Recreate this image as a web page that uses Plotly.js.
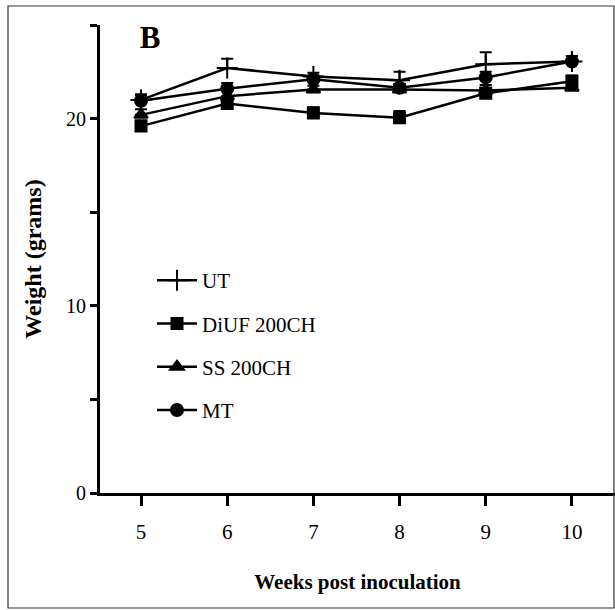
<!DOCTYPE html>
<html>
<head>
<meta charset="utf-8">
<script src="https://cdn.plot.ly/plotly-3.0.1.min.js"></script>
<style>html,body{margin:0;padding:0;background:#fff;}#chart{width:615px;height:610px;}</style>
</head>
<body>
<div id="chart"></div>
<script>
const weeks = [5, 6, 7, 8, 9, 10];
const seriesNames = ['UT', 'DiUF 200CH', 'SS 200CH', 'MT'];
const utWeight   = [21.0, 22.7, 22.25, 22.05, 22.9, 23.05];
const utErr      = [0.3, 0.5, 0.2, 0.45, 0.65, 0.3];
const diufWeight = [19.6, 20.8, 20.3, 20.05, 21.35, 22.0];
const diufErr    = [0.3, 0.35, 0.3, 0.35, 0.3, 0.3];
const ssWeight   = [20.2, 21.2, 21.55, 21.55, 21.5, 21.65];
const ssErr      = [0.3, 0.3, 0.2, 0.3, 0.3, 0.3];
const mtWeight   = [20.95, 21.6, 22.1, 21.65, 22.2, 23.05];
const mtErr      = [0.3, 0.3, 0.2, 0.2, 0.3, 0.3];
const xTickVals = [5, 6, 7, 8, 9, 10];
const yTickVals = [0, 5, 10, 15, 20, 25];
const yTickText = ['0', '', '10', '', '20', ''];

const serif = 'Liberation Serif, DejaVu Serif, serif';
const zeros = weeks.map(() => 0);

function mk(name, y, err, symbol, size, group) {
  return {
    x: weeks, y: y, name: name, type: 'scatter', mode: 'lines+markers',
    legendgroup: group,
    line: {color: '#000', width: 2.5},
    marker: {symbol: symbol, size: size, color: '#000', line: {color: '#000', width: 2}},
    error_y: {type: 'data', symmetric: false, array: err, arrayminus: zeros,
              color: '#000', thickness: 2, width: 6},
    cliponaxis: false
  };
}

const data = [
  mk(seriesNames[0], utWeight, utErr, 'cross-thin-open', 15, 'a'),
  mk(seriesNames[1], diufWeight, diufErr, 'square', 11, 'b'),
  mk(seriesNames[2], ssWeight, ssErr, 'triangle-up', 12, 'c'),
  mk(seriesNames[3], mtWeight, mtErr, 'circle', 12, 'd')
];

const L = 100, T = 25, W = 515, H = 468;
const px = v => (v - L) / W;
const py = v => (T + H - v) / H;

const layout = {
  width: 615, height: 610,
  margin: {l: L, r: 0, t: T, b: 610 - T - H},
  paper_bgcolor: '#fff', plot_bgcolor: '#fff',
  font: {family: serif, color: '#000', size: 20},
  title: {text: '<b>B</b>', font: {family: serif, size: 31, color: '#000'},
          x: 150 / 615, xanchor: 'center', y: 1 - 37 / 610, yanchor: 'middle'},
  showlegend: true,
  legend: {x: px(152), y: py(260), xanchor: 'left', yanchor: 'top',
           bgcolor: 'rgba(0,0,0,0)', font: {family: serif, size: 21, color: '#000'},
           traceorder: 'grouped', tracegroupgap: 13, itemwidth: 40},
  xaxis: {
    range: [4.524, 10.5], tickvals: xTickVals, ticktext: xTickVals.map(String),
    showline: true, linecolor: '#000', linewidth: 3, showgrid: false, zeroline: false,
    ticks: 'outside', ticklen: 10, tickwidth: 3, tickcolor: '#000',
    ticklabelstandoff: 8,
    tickfont: {family: serif, size: 21, color: '#000'},
    title: {text: '<b>Weeks post inoculation</b>', font: {family: serif, size: 21, color: '#000'}, standoff: 32}
  },
  yaxis: {
    range: [0, 25], tickvals: yTickVals, ticktext: yTickText,
    showline: true, linecolor: '#000', linewidth: 3, showgrid: false, zeroline: false,
    ticks: 'outside', ticklen: 7, tickwidth: 3, tickcolor: '#000',
    tickfont: {family: serif, size: 20, color: '#000'},
    title: {text: '<b>Weight (grams)</b>', font: {family: serif, size: 24, color: '#000'}, standoff: 18}
  },
  shapes: [{type: 'rect', xref: 'paper', yref: 'paper',
            x0: px(8), x1: px(614), y0: py(608), y1: py(6),
            line: {color: '#333', width: 1.2}, fillcolor: 'rgba(0,0,0,0)'}]
};

Plotly.newPlot('chart', data, layout, {displayModeBar: false, staticPlot: true});
</script>
</body>
</html>
